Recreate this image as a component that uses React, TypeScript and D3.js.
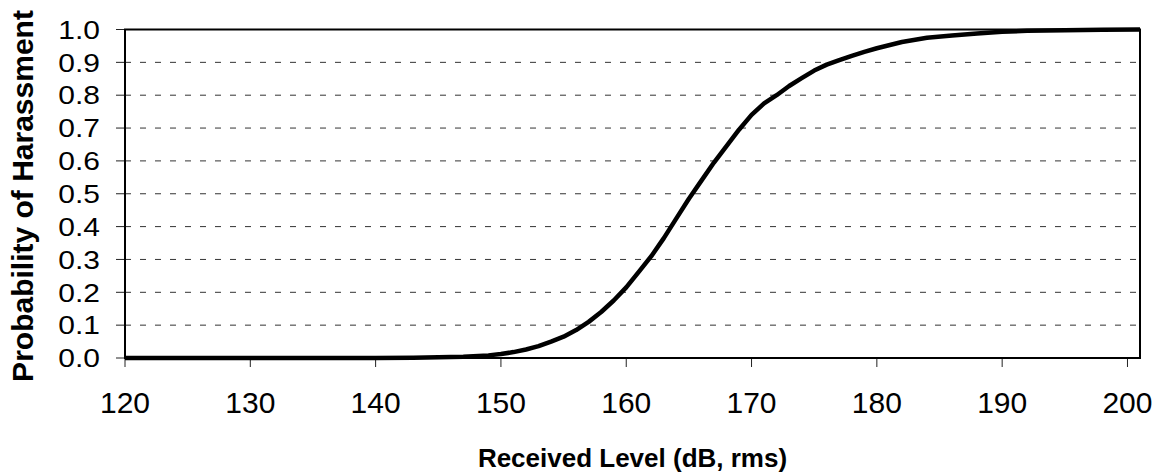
import React from "react";
import * as d3 from "d3";

const levels = [120, 125, 130, 135, 140, 143, 145, 147, 149, 150, 151, 152, 153, 154, 155, 156, 157, 158, 159, 160, 161, 162, 163, 164, 165, 166, 167, 168, 169, 170, 171, 172, 173, 174, 175, 176, 177, 178, 179, 180, 182, 184, 186, 188, 190, 192, 195, 198, 201];
const probs = [0, 0, 0, 0, 0, 0.001, 0.002, 0.004, 0.008, 0.012, 0.018, 0.026, 0.036, 0.05, 0.065, 0.085, 0.11, 0.14, 0.175, 0.215, 0.262, 0.31, 0.365, 0.425, 0.485, 0.54, 0.595, 0.645, 0.695, 0.74, 0.775, 0.8, 0.828, 0.852, 0.875, 0.893, 0.907, 0.92, 0.932, 0.943, 0.962, 0.975, 0.982, 0.988, 0.993, 0.996, 0.998, 0.999, 1.0];
const xTicks = [120, 130, 140, 150, 160, 170, 180, 190, 200];
const yTicks = [0, 0.1, 0.2, 0.3, 0.4, 0.5, 0.6, 0.7, 0.8, 0.9, 1.0];
const xTitle = "Received Level (dB, rms)";
const yTitle = "Probability of Harassment";

const W = 1168, H = 474;
const left = 125, right = 1140, top = 29.5, bottom = 358;

export default function App() {
  const x = d3.scaleLinear().domain([120, 201]).range([left, right]);
  const y = d3.scaleLinear().domain([0, 1]).range([bottom, top]);
  const pts = levels.map((l, i) => [l, probs[i]] as [number, number]);
  const line = d3.line<[number, number]>().x(d => x(d[0])).y(d => y(d[1]));
  const font = "'Liberation Sans', Arial, sans-serif";
  return (
    <svg width={W} height={H} style={{ position: "absolute", left: 0, top: 0, background: "#fff" }} fontFamily={font}>
      <rect x={0} y={0} width={W} height={H} fill="#fff" />
      {yTicks.filter(t => t > 0 && t < 1).map(t => (
        <line key={"g" + t} x1={left} x2={right} y1={y(t)} y2={y(t)} stroke="#333" strokeWidth={1} strokeDasharray="6,9" />
      ))}
      {yTicks.map(t => (
        <line key={"yt" + t} x1={left - 9} x2={left} y1={y(t)} y2={y(t)} stroke="#222" strokeWidth={1} />
      ))}
      {xTicks.map(t => (
        <line key={"xt" + t} x1={x(t)} x2={x(t)} y1={bottom} y2={bottom + 9} stroke="#222" strokeWidth={1} />
      ))}
      <rect x={left} y={top} width={right - left} height={bottom - top} fill="none" stroke="#000" strokeWidth={2} />
      <path d={line(pts) || ""} fill="none" stroke="#000" strokeWidth={4.5} strokeLinejoin="round" />
      {yTicks.map(t => (
        <g key={"yl" + t} transform={`translate(100,${y(t)}) scale(1,0.86)`}>
          <text textAnchor="end" dy="0.36em" fontSize={30} fill="#000">{t.toFixed(1)}</text>
        </g>
      ))}
      {xTicks.map(t => (
        <text key={"xl" + t} x={x(t)} y={413} textAnchor="middle" fontSize={30} fill="#000">{t}</text>
      ))}
      <text x={(left + right) / 2} y={466.5} textAnchor="middle" fontSize={26} fontWeight="bold" fill="#000">{xTitle}</text>
      <text transform="translate(33,196) rotate(-90)" textAnchor="middle" fontSize={30} fontWeight="bold" fill="#000">{yTitle}</text>
    </svg>
  );
}
